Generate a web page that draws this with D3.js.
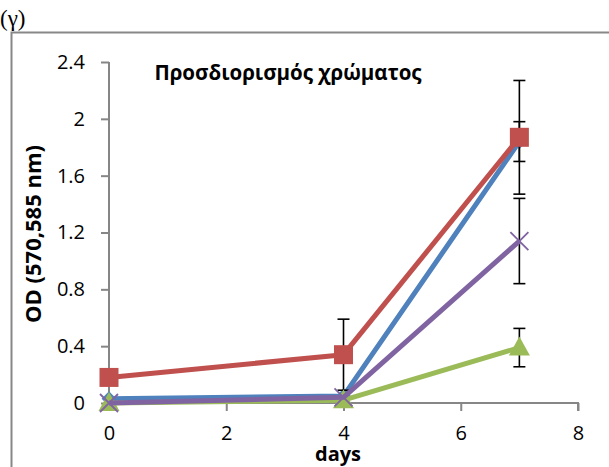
<!DOCTYPE html>
<html><head><meta charset="utf-8">
<script src="https://cdn.jsdelivr.net/npm/d3@7"></script>
<style>body{margin:0;background:#fff}svg{display:block}</style>
</head><body>
<svg id="c" width="609" height="467"></svg>
<script>
const days = [0, 4, 7];
const blueVals = [0.03, 0.05, 1.84];
const blueErr = [0, 0, 0.14];
const redVals = [0.18, 0.34, 1.87];
const redErr = [0, 0.25, 0.40];
const greenVals = [0.0, 0.02, 0.39];
const greenErr = [0, 0, 0.135];
const purpleVals = [0.0, 0.04, 1.14];
const purpleErr = [0, 0, 0.30];
const xTicks = [0, 2, 4, 6, 8];
const yTicks = [0, 0.4, 0.8, 1.2, 1.6, 2, 2.4];
const title = "Προσδιορισμός χρώματος";
const yLabel = "OD (570,585 nm)";
const xLabel = "days";
const panel = "(γ)";

const svg = d3.select("#c");
const x = d3.scaleLinear().domain([0, 8]).range([109, 578]);
const y = d3.scaleLinear().domain([0, 2.4]).range([403, 62]);
const font = "'Open Sans', 'Noto Sans', sans-serif";

// frame
svg.append("path").attr("d", "M11.5,467 V32.5 H609").attr("fill", "none").attr("stroke", "#888").attr("stroke-width", 2);
svg.append("text").attr("x", 0).attr("y", 26).text(panel)
  .attr("font-family", "'Liberation Serif', serif").attr("font-size", 23).attr("fill", "#000");

// axes
const yAxis = d3.axisLeft(y).tickValues(yTicks).tickSize(8).tickPadding(16)
  .tickFormat(d => d === 0 ? "0" : d3.format("~g")(d));
const gy = svg.append("g").attr("transform", `translate(${x(0)},0)`).call(yAxis);
const xAxis = d3.axisBottom(x).tickValues(xTicks).tickSize(8).tickPadding(15).tickFormat(d3.format("d"));
const gx = svg.append("g").attr("transform", `translate(0,${y(0)})`).call(xAxis);
[gx, gy].forEach(g => {
  g.select(".domain").attr("stroke", "#868686").attr("stroke-width", 2);
  g.selectAll(".tick line").attr("stroke", "#868686").attr("stroke-width", 2);
  g.selectAll(".tick text").attr("font-family", font).attr("font-size", 20).attr("fill", "#000");
});
gy.select(".domain").attr("d", `M-0,${y(2.4)}H0V${y(0)}H0`);
gx.select(".domain").attr("d", `M${x(0)},0V0H${x(8)}V8`);

svg.append("text").attr("x", 288).attr("y", 80).text(title)
  .attr("text-anchor", "middle").attr("font-family", font).attr("font-weight", "bold")
  .attr("font-size", 20.5).attr("fill", "#000");
svg.append("text").attr("transform", "translate(41,234) rotate(-90)").text(yLabel)
  .attr("text-anchor", "middle").attr("font-family", font).attr("font-weight", "bold")
  .attr("font-size", 22).attr("fill", "#000");
svg.append("text").attr("x", 338).attr("y", 461).text(xLabel)
  .attr("text-anchor", "middle").attr("font-family", font).attr("font-weight", "bold")
  .attr("font-size", 20).attr("fill", "#000");

const series = [
  {vals: blueVals, err: blueErr, color: "#4F81BD", marker: "diamond"},
  {vals: redVals, err: redErr, color: "#C0504D", marker: "square"},
  {vals: greenVals, err: greenErr, color: "#9BBB59", marker: "triangle"},
  {vals: purpleVals, err: purpleErr, color: "#8064A2", marker: "x"}
];
const line = d3.line().x(d => x(d[0])).y(d => y(d[1]));

series.forEach(s => {
  const pts = days.map((d, i) => [d, s.vals[i], s.err[i]]);
  pts.filter(p => p[2] > 0).forEach(p => {
    const g = svg.append("g").attr("stroke", "#000").attr("stroke-width", 1.6);
    const cx = x(p[0]), t = y(p[1] + p[2]), b = y(p[1] - p[2]);
    g.append("line").attr("x1", cx).attr("x2", cx).attr("y1", t).attr("y2", b);
    g.append("line").attr("x1", cx - 6).attr("x2", cx + 6).attr("y1", t).attr("y2", t);
    g.append("line").attr("x1", cx - 6).attr("x2", cx + 6).attr("y1", b).attr("y2", b);
  });
  svg.append("path").datum(pts).attr("d", line).attr("fill", "none")
    .attr("stroke", s.color).attr("stroke-width", 5).attr("stroke-linejoin", "round");
  pts.forEach(p => {
    const cx = x(p[0]), cy = y(p[1]);
    if (s.marker === "square") {
      svg.append("rect").attr("x", cx - 9.5).attr("y", cy - 9.5).attr("width", 19).attr("height", 19).attr("fill", s.color);
    } else if (s.marker === "diamond") {
      svg.append("path").attr("d", d3.symbol(d3.symbolDiamond2, 140)()).attr("transform", `translate(${cx},${cy})`).attr("fill", s.color);
    } else if (s.marker === "triangle") {
      svg.append("path").attr("d", `M${cx},${cy - 11}L${cx + 10.5},${cy + 8}L${cx - 10.5},${cy + 8}Z`).attr("fill", s.color);
    } else {
      svg.append("path").attr("d", `M${cx - 9},${cy - 9}L${cx + 9},${cy + 9}M${cx - 9},${cy + 9}L${cx + 9},${cy - 9}`)
        .attr("stroke", s.color).attr("stroke-width", 1.8);
    }
  });
});
</script>
</body></html>
